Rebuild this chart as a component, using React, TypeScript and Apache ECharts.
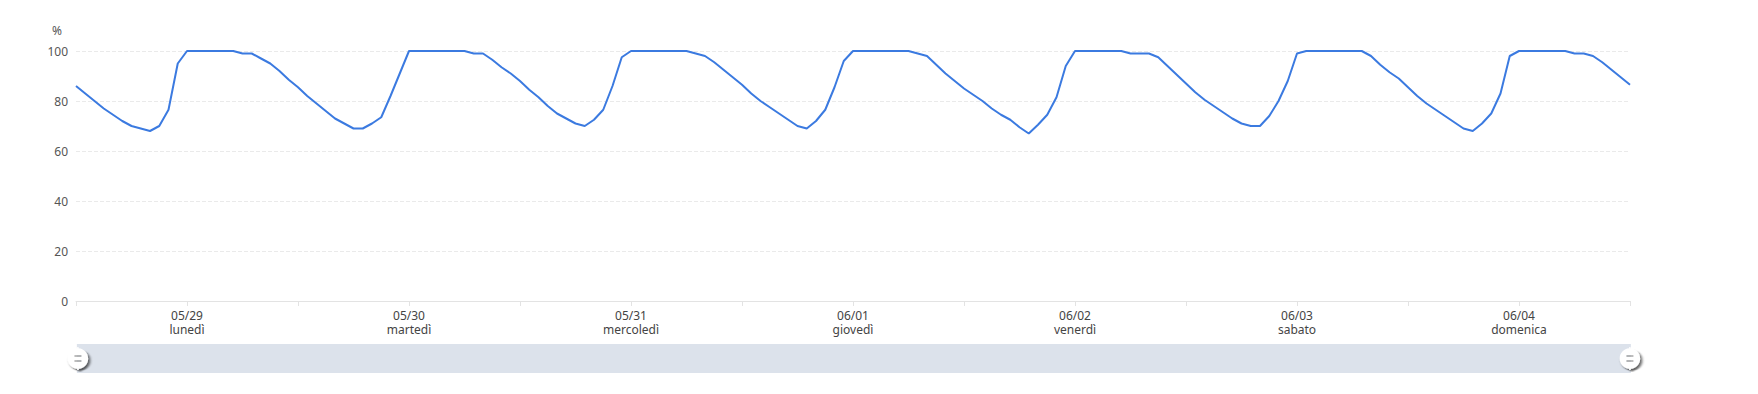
import React, { useEffect, useRef } from "react";
import * as echarts from "echarts";

const days = ["05/29", "05/30", "05/31", "06/01", "06/02", "06/03", "06/04", "06/05"];
const weekdays = ["lunedì", "martedì", "mercoledì", "giovedì", "venerdì", "sabato", "domenica", "lunedì"];
const yTicks = [0, 20, 40, 60, 80, 100];

// hourly readings, % (05/29 00:00 → 06/05 00:00)
const day1 = [86, 83, 80, 77, 74.5, 72, 70, 69, 68, 70, 76.5, 95, 100, 100, 100, 100, 100, 100, 99, 99, 97, 95, 92, 88.5];
const day2 = [85.5, 82, 79, 76, 73, 71, 69, 69, 71, 73.5, 82, 91, 100, 100, 100, 100, 100, 100, 100, 99, 99, 96.5, 93.5, 91];
const day3 = [88, 84.5, 81.5, 78, 75, 73, 71, 70, 72.5, 76.5, 86, 97.5, 100, 100, 100, 100, 100, 100, 100, 99, 98, 95.5, 92.5, 89.5];
const day4 = [86.5, 83, 80, 77.5, 75, 72.5, 70, 69, 72, 76.5, 85.5, 96, 100, 100, 100, 100, 100, 100, 100, 99, 98, 94.5, 91, 88];
const day5 = [85, 82.5, 80, 77, 74.5, 72.5, 69.5, 67, 70.5, 74.5, 81.5, 94, 100, 100, 100, 100, 100, 100, 99, 99, 99, 97.5, 94, 90.5];
const day6 = [87, 83.5, 80.5, 78, 75.5, 73, 71, 70, 70, 74, 80, 88, 99, 100, 100, 100, 100, 100, 100, 100, 98, 94.5, 91.5, 89];
const day7 = [85.5, 82, 79, 76.5, 74, 71.5, 69, 68, 71, 75, 83, 98, 100, 100, 100, 100, 100, 100, 99, 99, 98, 95.5, 92.5, 89.5];
const lastPoint = [86.5];

const values = [...day1, ...day2, ...day3, ...day4, ...day5, ...day6, ...day7, ...lastPoint];

const categories: string[] = values.map((_, i) => {
  const d = Math.floor(i / 24);
  const h = i % 24;
  return `${days[d]}\n${weekdays[d]}\n${String(h).padStart(2, "0")}:00`;
});

const handlePath =
  "path://M10.7,11.9v-1.3H9.3v1.3c-4.9,0.3-8.8,4.4-8.8,9.4c0,5,3.9,9.1,8.8,9.4v1.3h1.3v-1.3c4.9-0.3,8.8-4.4,8.8-9.4C19.5,16.3,15.6,12.2,10.7,11.9z M13.3,24.4H6.7V23h6.6V24.4z M13.3,19.6H6.7v-1.4h6.6V19.6z";

const FONT = "'Microsoft YaHei', 'Noto Sans', 'Open Sans', sans-serif";

export default function App() {
  const ref = useRef<HTMLDivElement>(null);
  useEffect(() => {
    document.body.style.margin = "0";
    if (!ref.current) return;
    const chart = echarts.init(ref.current, null, { renderer: "svg" });
    chart.setOption({
      animation: false,
      textStyle: { fontFamily: FONT },
      grid: { left: 76, right: 128, top: 51, bottom: 93 },
      xAxis: {
        type: "category",
        boundaryGap: false,
        data: categories,
        axisLine: { lineStyle: { color: "#e3e3e3" } },
        axisTick: {
          show: true,
          interval: (i: number) => i % 12 === 0,
          lineStyle: { color: "#e3e3e3" },
        },
        axisLabel: {
          interval: (i: number) => i % 24 === 12,
          color: "#444",
          fontSize: 12,
          fontFamily: FONT,
          lineHeight: 14,
          margin: 7,
          formatter: (v: string) => {
            const p = v.split("\n");
            return p[0] + "\n" + p[1];
          },
        },
        splitLine: { show: false },
      },
      yAxis: {
        type: "value",
        min: 0,
        max: yTicks[yTicks.length - 1],
        interval: 20,
        name: "%",
        nameTextStyle: { color: "#555", fontSize: 12, align: "right", padding: [0, 14, 0, 0], fontFamily: FONT },
        axisLine: { show: false },
        axisTick: { show: false },
        axisLabel: { color: "#555", fontSize: 12, fontFamily: FONT },
        splitLine: { lineStyle: { type: "dashed", color: "#eaeaea" } },
      },
      dataZoom: [
        {
          type: "slider",
          start: 0,
          end: 100,
          left: 76,
          right: 128,
          bottom: 21,
          height: 29,
          showDataShadow: false,
          showDetail: false,
          brushSelect: false,
          moveHandleSize: 0,
          backgroundColor: "rgba(0,0,0,0)",
          borderColor: "rgba(0,0,0,0)",
          fillerColor: "rgba(167,183,204,0.4)",
          handleIcon: handlePath,
          handleSize: "80%",
          handleStyle: {
            color: "#fff",
            borderWidth: 0,
            shadowBlur: 3,
            shadowColor: "rgba(0,0,0,0.6)",
            shadowOffsetX: 2,
            shadowOffsetY: 2,
          },
          emphasis: { handleStyle: { color: "#fff" } },
        },
      ],
      series: [
        {
          type: "line",
          data: values,
          showSymbol: false,
          symbol: "none",
          lineStyle: { color: "#3b7ae0", width: 2 },
          itemStyle: { color: "#3b7ae0" },
        },
      ],
    });
    return () => chart.dispose();
  }, []);
  return <div ref={ref} style={{ width: 1758, height: 394 }} />;
}
